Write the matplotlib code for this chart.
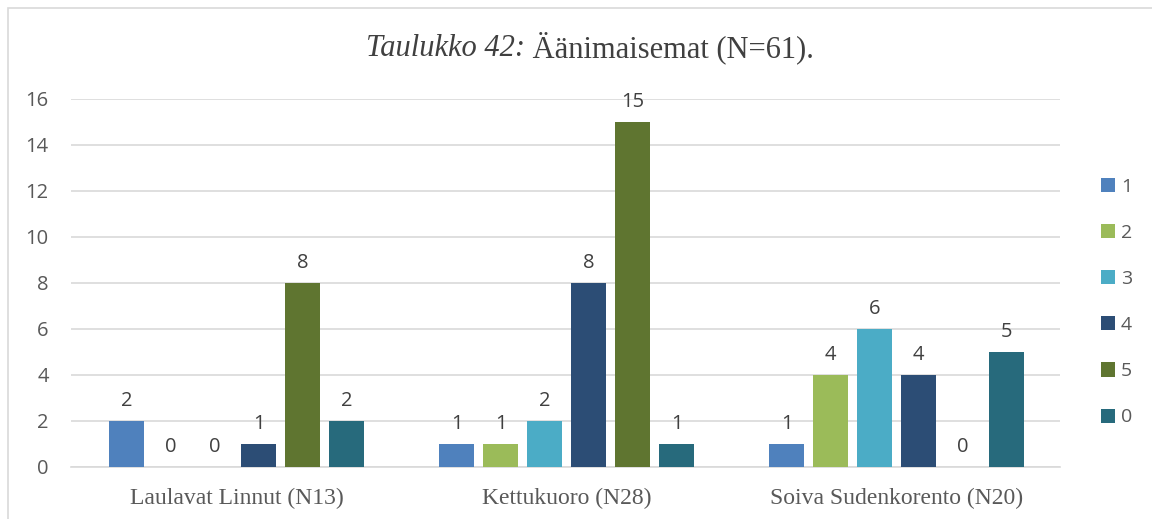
import matplotlib
matplotlib.use("Agg")
import matplotlib.pyplot as plt
from matplotlib.patches import Rectangle, Patch
import numpy as np

categories = ["Laulavat Linnut (N13)", "Kettukuoro (N28)", "Soiva Sudenkorento (N20)"]
series_names = ["1", "2", "3", "4", "5", "0"]
s1 = [2, 1, 1]
s2 = [0, 1, 4]
s3 = [0, 2, 6]
s4 = [1, 8, 4]
s5 = [8, 15, 0]
s0 = [2, 1, 5]
series_values = [s1, s2, s3, s4, s5, s0]
colors = ["#4F81BD", "#9BBB59", "#4BACC6", "#2C4D75", "#5F7530", "#276A7C"]
yticks = [0, 2, 4, 6, 8, 10, 12, 14, 16]

W, H = 1152, 519
fig = plt.figure(figsize=(W / 100, H / 100), dpi=100)
fig.patches.append(Rectangle((8 / W, -0.1), 1.2, (H - 8) / H + 0.1, transform=fig.transFigure,
                             fill=False, edgecolor="#D9D9D9", linewidth=1.2))

L, R = 71, 1060
ax = fig.add_axes([L / W, (H - 467) / H, (R - L) / W, (467 - 99) / H])
x = np.arange(len(categories))
gw = 330
slot = 44 / gw
bw = 35 / gw
for i, (name, vals, c) in enumerate(zip(series_names, series_values, colors)):
    pos = x + (i - 2.5) * slot
    ax.bar(pos, vals, width=bw, color=c, label=name, zorder=3)
    for p, v in zip(pos, vals):
        ax.annotate(str(v), (p, v), xytext=(0, 7), textcoords="offset points",
                    ha="center", va="bottom", fontsize=14.5, color="#404040",
                    family="Open Sans")

ax.set_ylim(0, 16)
x0 = -(236.5 - L) / gw
ax.set_xlim(x0, x0 + (R - L) / gw)
ax.set_yticks(yticks)
ax.set_yticklabels([str(t) for t in yticks], fontsize=14.5, color="#595959", family="Open Sans")
ax.set_xticks(x)
ax.set_xticklabels(categories, fontsize=17, color="#595959", family="Liberation Serif")
ax.tick_params(axis="both", length=0)
ax.tick_params(axis="y", pad=16)
ax.tick_params(axis="x", pad=15)
ax.grid(axis="y", color="#D9D9D9", linewidth=1.2, zorder=0)
ax.set_axisbelow(True)
for s in ["top", "right", "left"]:
    ax.spines[s].set_visible(False)
ax.spines["bottom"].set_color("#D9D9D9")
ax.spines["bottom"].set_linewidth(1.2)

ty = (H - 48) / H
t1 = fig.text(0, ty, "Taulukko 42:", fontsize=22, style="italic",
              family="Liberation Serif", color="#404040", ha="left", va="center")
t2 = fig.text(0, ty, " Äänimaisemat (N=61).", fontsize=22,
              family="Liberation Serif", color="#404040", ha="left", va="center")
fig.canvas.draw()
r = fig.canvas.get_renderer()
w1 = t1.get_window_extent(r).width
w2 = t2.get_window_extent(r).width
start = 590 - (w1 + w2) / 2
t1.set_x(start / W)
t2.set_x((start + w1) / W)

handles = [Patch(facecolor=c, label=n) for n, c in zip(series_names, colors)]
leg = fig.legend(handles=handles, loc="upper left", bbox_to_anchor=(1083 / W, (H - 160) / H),
                 frameon=False, handlelength=0.75, handleheight=0.75,
                 labelspacing=1.45, handletextpad=0.3, prop={"family": "Open Sans", "size": 14})
for t in leg.get_texts():
    t.set_color("#595959")

fig.savefig("out.png", dpi=100)
